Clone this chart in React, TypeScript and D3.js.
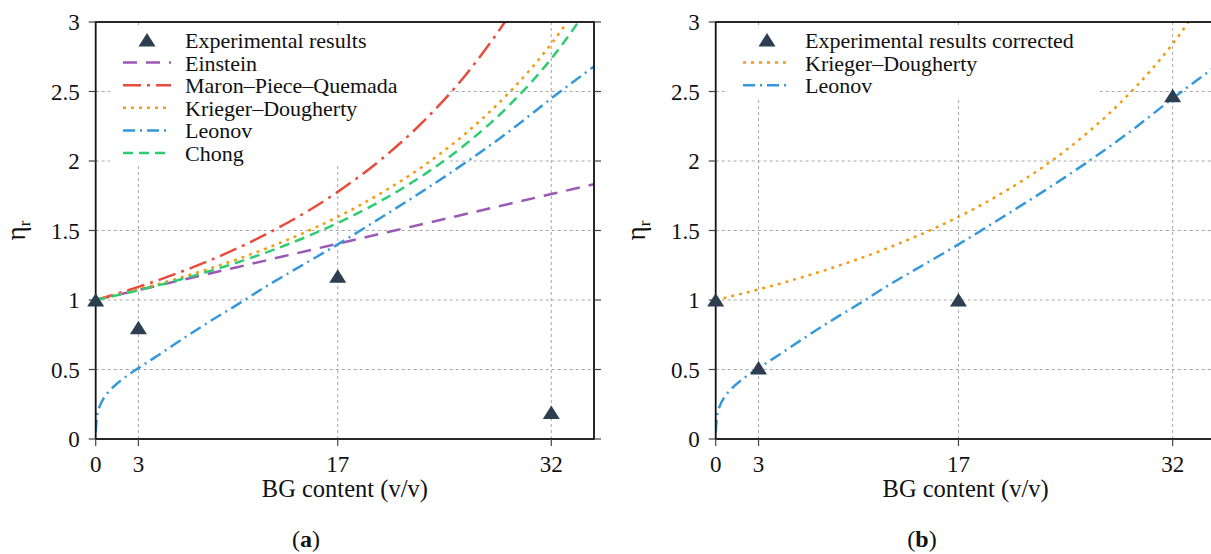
import React from 'react';
import * as d3 from 'd3';

// ---------- data ----------
const xTicks = [0, 3, 17, 32];
const yTicks = [0, 0.5, 1, 1.5, 2, 2.5, 3];
const yTickLabels = ['0', '0.5', '1', '1.5', '2', '2.5', '3'];

const expX = [0, 3, 17, 32];
const expA = [1.0, 0.8, 1.17, 0.19];
const expB = [1.0, 0.51, 1.0, 2.47];

const einsteinX = [0, 5, 10, 17, 25, 32, 35];
const einsteinY = [1.0, 1.119, 1.238, 1.405, 1.595, 1.762, 1.833];

const mpqX = [0, 3, 6, 9, 12, 15, 17, 20, 23, 26, 29, 30];
const mpqY = [1.0, 1.094, 1.203, 1.328, 1.475, 1.646, 1.778, 2.007, 2.283, 2.621, 3.04, 3.2];

const kdX = [0, 3, 6, 9, 12, 15, 17, 20, 23, 26, 29, 32, 34];
const kdY = [1.0, 1.076, 1.162, 1.26, 1.372, 1.501, 1.598, 1.766, 1.963, 2.2, 2.488, 2.843, 3.13];

const leonovX = [0, 0.1, 0.3, 0.6, 1, 2, 3, 4.5, 6.4, 8, 10, 12, 14, 17, 20, 23, 26, 29, 32, 35];
const leonovY = [0.05, 0.17, 0.24, 0.3, 0.35, 0.44, 0.51, 0.61, 0.74, 0.845, 0.97, 1.1, 1.22, 1.4, 1.59, 1.785, 1.99, 2.21, 2.45, 2.68];

const chongX = [0, 3, 6, 9, 12, 15, 17, 20, 23, 26, 29, 32, 35];
const chongY = [1.0, 1.07, 1.149, 1.239, 1.343, 1.463, 1.554, 1.711, 1.898, 2.122, 2.396, 2.736, 3.165];

const legendA = ['Experimental results', 'Einstein', 'Maron\u2013Piece\u2013Quemada', 'Krieger\u2013Dougherty', 'Leonov', 'Chong'];
const legendB = ['Experimental results corrected', 'Krieger\u2013Dougherty', 'Leonov'];

const xLabel = 'BG content (v/v)';

// ---------- styles ----------
const FONT = '"Liberation Serif", "Times New Roman", serif';
const STY: Record<string, { color: string; dash: string }> = {
  einstein: { color: '#9b59b6', dash: '14,9' },
  mpq: { color: '#e74c3c', dash: '18,6,3,6' },
  kd: { color: '#f39c12', dash: '3,5' },
  leonov: { color: '#3498db', dash: '12,5,2,5' },
  chong: { color: '#2ecc71', dash: '10,6' },
};
const MARKER = '#2c3e50';
const GRID = '#a8a8a8';

type Series = { key: string; xs: number[]; ys: number[] };

function tri(cx: number, cy: number) {
  return `M${cx},${cy - 7}L${cx + 8.5},${cy + 6.5}L${cx - 8.5},${cy + 6.5}Z`;
}

function Panel(props: {
  id: string;
  left: number;
  right: number;
  series: Series[];
  exp: number[];
  legend: string[];
  legendKeys: string[];
  legendBox: [number, number, number, number];
  tag: string;
  tagX: number;
}) {
  const { id, left, right, series, exp, legend, legendKeys, legendBox, tag, tagX } = props;
  const top = 22;
  const bottom = 439;
  const x = d3.scaleLinear().domain([0, 35]).range([left, right]);
  const y = d3.scaleLinear().domain([0, 3]).range([bottom, top]);
  const line = (xs: number[], ys: number[]) =>
    d3
      .line<number>()
      .x((_, i) => x(xs[i]))
      .y((d) => y(d))
      .curve(d3.curveMonotoneX)(ys) || '';
  const hx = left + 27.3;
  const hLen = 48;
  const textX = hx + 62;
  return (
    <g fontFamily={FONT}>
      <defs>
        <clipPath id={`clip-${id}`}>
          <rect x={left} y={top} width={right - left} height={bottom - top} />
        </clipPath>
      </defs>
      {/* grid */}
      {yTicks.slice(1, 6).map((t) => (
        <line key={`gy${t}`} x1={left} x2={right} y1={y(t)} y2={y(t)} stroke={GRID} strokeWidth={1} strokeDasharray="3,3" />
      ))}
      {xTicks.slice(1).map((t) => (
        <line key={`gx${t}`} x1={x(t)} x2={x(t)} y1={top} y2={bottom} stroke={GRID} strokeWidth={1} strokeDasharray="3,3" />
      ))}
      {/* legend background */}
      <rect x={legendBox[0]} y={legendBox[1]} width={legendBox[2] - legendBox[0]} height={legendBox[3] - legendBox[1]} fill="#fff" />
      {/* curves */}
      <g clipPath={`url(#clip-${id})`}>
        {series.map((s) => (
          <path key={s.key} d={line(s.xs, s.ys)} fill="none" stroke={STY[s.key].color} strokeWidth={2.5} strokeDasharray={STY[s.key].dash} />
        ))}
      </g>
      {/* spines */}
      <rect x={left} y={top} width={right - left} height={bottom - top} fill="none" stroke="#111" strokeWidth={1.8} />
      {/* y ticks */}
      {yTicks.map((t, i) => (
        <g key={`yt${t}`}>
          <line x1={left - 7} x2={left} y1={y(t)} y2={y(t)} stroke="#444" strokeWidth={1.2} />
          <line x1={right} x2={right + 7} y1={y(t)} y2={y(t)} stroke="#444" strokeWidth={1.2} />
          <text x={left - 16} y={y(t) + 8} fontSize={23} textAnchor="end" fill="#111">
            {yTickLabels[i]}
          </text>
        </g>
      ))}
      {/* x ticks */}
      {xTicks.map((t) => (
        <g key={`xt${t}`}>
          <line x1={x(t)} x2={x(t)} y1={bottom} y2={bottom + 7} stroke="#444" strokeWidth={1.2} />
          <text x={x(t)} y={472} fontSize={23} textAnchor="middle" fill="#111">
            {t}
          </text>
        </g>
      ))}
      {/* experimental markers */}
      {expX.map((v, i) => (
        <path key={`m${i}`} d={tri(x(v), y(exp[i]))} fill={MARKER} />
      ))}
      {/* axis labels */}
      <text x={(left + right) / 2} y={497} fontSize={24.5} textAnchor="middle" fill="#111">
        {xLabel}
      </text>
      <text transform={`translate(${left - 71},${(top + bottom) / 2}) rotate(-90)`} fontSize={27} textAnchor="middle" fill="#111">
        {'\u03b7'}
        <tspan fontSize={17} dy={5}>
          r
        </tspan>
      </text>
      <text x={tagX} y={547} fontSize={24} textAnchor="middle" fill="#111">
        (<tspan fontWeight="bold">{tag}</tspan>)
      </text>
      {/* legend */}
      {legend.map((lab, i) => {
        const cy = 40 + i * 22.6;
        const key = legendKeys[i];
        return (
          <g key={`lg${i}`}>
            {key === 'exp' ? (
              <path d={tri(hx + hLen / 2, cy)} fill={MARKER} />
            ) : (
              <line x1={hx} x2={hx + hLen} y1={cy} y2={cy} stroke={STY[key].color} strokeWidth={2.5} strokeDasharray={STY[key].dash} />
            )}
            <text x={textX} y={cy + 8} fontSize={22} fill="#111">
              {lab}
            </text>
          </g>
        );
      })}
    </g>
  );
}

export default function App() {
  const seriesA: Series[] = [
    { key: 'einstein', xs: einsteinX, ys: einsteinY },
    { key: 'mpq', xs: mpqX, ys: mpqY },
    { key: 'kd', xs: kdX, ys: kdY },
    { key: 'leonov', xs: leonovX, ys: leonovY },
    { key: 'chong', xs: chongX, ys: chongY },
  ];
  const seriesB: Series[] = [
    { key: 'kd', xs: kdX, ys: kdY },
    { key: 'leonov', xs: leonovX, ys: leonovY },
  ];
  return (
    <svg width={1211} height={554} style={{ position: 'absolute', left: 0, top: 0, background: '#fff' }}>
      <rect width={1211} height={554} fill="#fff" />
      <Panel
        id="a"
        left={95.7}
        right={594}
        series={seriesA}
        exp={expA}
        legend={legendA}
        legendKeys={['exp', 'einstein', 'mpq', 'kd', 'leonov', 'chong']}
        legendBox={[110, 28, 450, 166]}
        tag="a"
        tagX={306}
      />
      <Panel
        id="b"
        left={715.7}
        right={1215.5}
        series={seriesB}
        exp={expB}
        legend={legendB}
        legendKeys={['exp', 'kd', 'leonov']}
        legendBox={[728, 28, 1100, 97]}
        tag="b"
        tagX={922}
      />
    </svg>
  );
}
